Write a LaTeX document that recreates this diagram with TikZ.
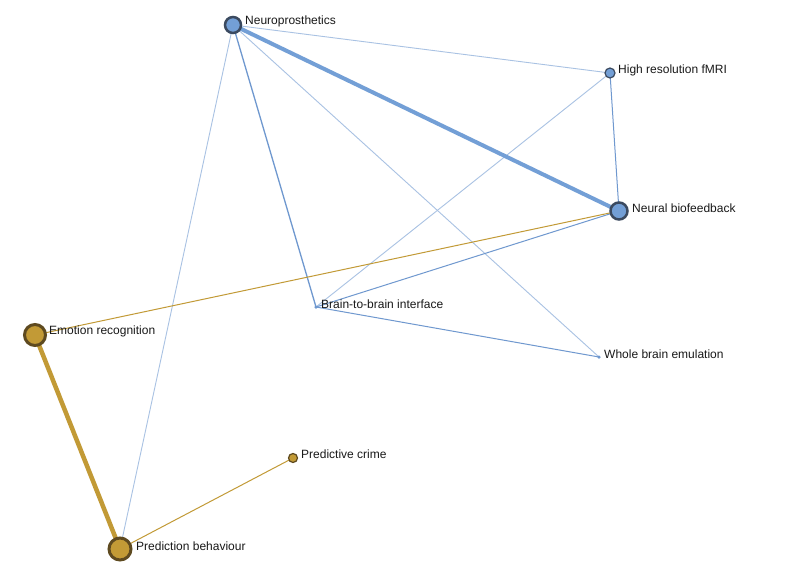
\documentclass[tikz,border=0pt]{standalone}
\usepackage{fontspec}
\setmainfont{Liberation Sans}
\begin{document}
\begin{tikzpicture}[x=1pt,y=-1pt,
  bnode/.style={circle,draw=bstroke,fill=bfill,line width=2.5pt,inner sep=0pt},
  gnode/.style={circle,draw=gstroke,fill=gfill,line width=3pt,inner sep=0pt},
  lbl/.style={anchor=west,inner sep=0pt,font=\fontsize{12}{13}\selectfont,text=black!90},
  bthin/.style={draw=blight,line width=0.9pt},
  bmed/.style={draw=bmid,line width=1pt},
  bthick/.style={draw=bedge,line width=4pt},
  gthin/.style={draw=gedge,line width=1pt},
  gthick/.style={draw=gedge,line width=4.5pt}]
\definecolor{bfill}{HTML}{739FD6}
\definecolor{bstroke}{HTML}{3B4A60}
\definecolor{gfill}{HTML}{C29A36}
\definecolor{gstroke}{HTML}{5E4A20}
\definecolor{blight}{HTML}{A9C2E3}
\definecolor{bmid}{HTML}{6F98CF}
\definecolor{bedge}{HTML}{739FD6}
\definecolor{gedge}{HTML}{C29A36}
\useasboundingbox (0,0) rectangle (788,576);
\fill[white] (0,0) rectangle (788,576);
% node coordinates
\coordinate (np) at (233,25);
\coordinate (fm) at (610,73);
\coordinate (nb) at (619,211);
\coordinate (bb) at (316,307);
\coordinate (er) at (35,335);
\coordinate (wb) at (599,357);
\coordinate (pc) at (293,458);
\coordinate (pb) at (120,549);
% edges
\draw[bthin] (np) -- (fm);
\draw[bthin] (np) -- (wb);
\draw[bthin] (np) -- (pb);
\draw[bthin] (fm) -- (bb);
\draw[bmed] (fm) -- (nb);
\draw[bmed] (nb) -- (bb);
\draw[bmed] (bb) -- (wb);
\draw[bmed,line width=1.3pt] (np) -- (bb);
\draw[gthin] (nb) -- (er);
\draw[gthin] (pc) -- (pb);
\draw[bthick] (np) -- (nb);
\draw[gthick] (er) -- (pb);
% nodes
\node[bnode,minimum size=16pt] (npn) at (np) {};
\node[bnode,minimum size=10pt,line width=1.2pt] (fmn) at (fm) {};
\node[bnode,minimum size=17pt] (nbn) at (nb) {};
\node[circle,fill=bmid,inner sep=0pt,minimum size=3.5pt] (bbn) at (bb) {};
\node[gnode,minimum size=21pt] (ern) at (er) {};
\node[circle,fill=bmid,inner sep=0pt,minimum size=3.5pt] (wbn) at (wb) {};
\node[gnode,minimum size=9pt,line width=1.2pt] (pcn) at (pc) {};
\node[gnode,minimum size=22pt] (pbn) at (pb) {};
% labels
\node[lbl] (npl) at (245,21) {Neuroprosthetics};
\node[lbl] (fml) at (618,70) {High resolution fMRI};
\node[lbl] (nbl) at (632,208) {Neural biofeedback};
\node[lbl] (bbl) at (321,304) {Brain-to-brain interface};
\node[lbl] (erl) at (49,331) {Emotion recognition};
\node[lbl] (wbl) at (604,354) {Whole brain emulation};
\node[lbl] (pcl) at (301,454) {Predictive crime};
\node[lbl] (pbl) at (136,546) {Prediction behaviour};
\end{tikzpicture}
\end{document}
